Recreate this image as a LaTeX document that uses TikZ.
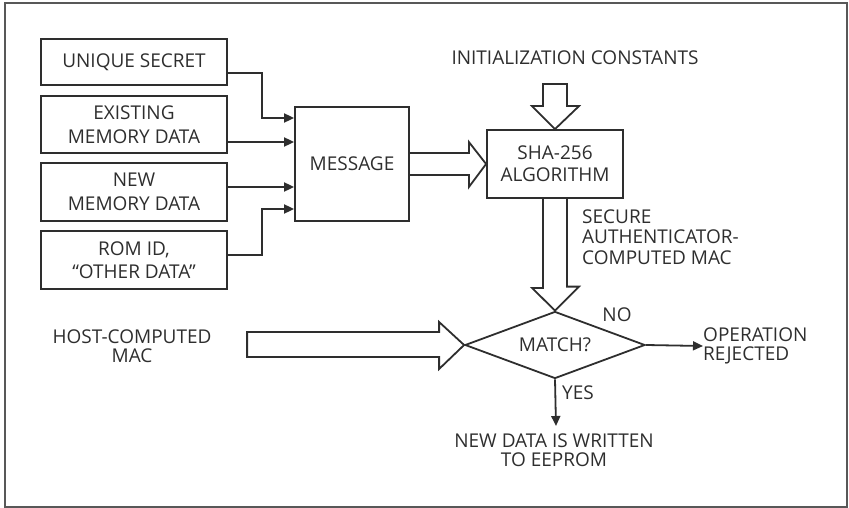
\documentclass[tikz,border=0pt]{standalone}
\usepackage{fontspec}
\setmainfont{Open Sans}
\usetikzlibrary{shapes.geometric,arrows.meta,calc}
\definecolor{ink}{HTML}{2E2E2E}
\begin{document}
\begin{tikzpicture}[x=1pt,y=-1pt,
  every node/.style={font=\fontsize{19}{19}\selectfont, text=ink, inner sep=0pt},
  line/.style={draw=ink, line width=1.8pt},
  box/.style={line, rectangle, align=center},
  inbox/.style={box, minimum width=186pt, font=\fontsize{19}{23.5}\selectfont},
  flow/.style={line, -{Triangle[length=10pt,width=9pt]}},
  hollow/.style={line, line join=miter},
  lbl/.style={align=center}]
% frame
\useasboundingbox (0,0) rectangle (849,508);
\draw[draw=ink!80, line width=1.5pt] (5,3) rectangle (847,507);

% input boxes
\node[inbox, minimum height=46pt] (b1) at (134,62) {UNIQUE SECRET};
\node[inbox, minimum height=57pt] (b2) at (134,124.5) {EXISTING\\MEMORY DATA};
\node[inbox, minimum height=58pt] (b3) at (134,192) {NEW\\MEMORY DATA};
\node[inbox, minimum height=58pt] (b4) at (134,260) {ROM ID,\\``OTHER DATA''};

% message and hash blocks
\node[box, minimum width=114pt, minimum height=114pt] (msg) at (352,164) {MESSAGE};
\node[box, minimum width=136pt, minimum height=68pt, font=\fontsize{19}{22}\selectfont] (sha) at (555,164) {SHA-256\\ALGORITHM};

% decision diamond with its caption set on top
\node[line, diamond, minimum width=180pt, minimum height=67pt] (dia) at (555,345) {};
\node (match) at (dia.center) {MATCH?};

% free labels
\node[lbl] (init) at (575,58) {INITIALIZATION CONSTANTS};
\node[lbl] (host) at (132,346) {HOST-COMPUTED\\MAC};
\node[align=left, anchor=west, font=\fontsize{19}{20.5}\selectfont] (sec) at (582,237) {SECURE\\AUTHENTICATOR-\\COMPUTED MAC};
\node[align=left, anchor=west] (rej) at (703,346) {OPERATION\\REJECTED};
\node[lbl, anchor=north] (new) at (554,434) {NEW DATA IS WRITTEN\\TO EEPROM};
\node (no) at (617,315) {NO};
\node (yes) at (578,393) {YES};

% inputs into the message
\draw[flow] ($(b1.east)+(0,11)$) -- ++(34,0) |- ($(msg.west)+(0,-46)$);
\draw[flow] ($(b2.east)+(0,17.5)$) -- ($(msg.west)+(0,-22)$);
\draw[flow] ($(b3.east)+(0,-5)$) -- ($(msg.west)+(0,23)$);
\draw[flow] ($(b4.east)+(0,-5)$) -- ++(34,0) |- ($(msg.west)+(0,45)$);

% wide arrow: message to hash
\draw[hollow] ($(msg.east)+(0,-11)$) -- ++(59,0) -- ++(0,-11) -- (sha.west)
  -- ($(msg.east)+(59,23)$) -- ++(0,-12) -- ($(msg.east)+(0,11)$);

% wide arrow: constants into hash
\draw[hollow] ($(sha.north)+(-12,-45)$) -- ++(0,22) -- ++(-11,0) -- (sha.north)
  -- ($(sha.north)+(24,-23)$) -- ++(-12,0) -- ++(0,-22) -- cycle;

% wide arrow: hash to comparison
\draw[hollow] ($(sha.south)+(-12,0)$) -- ++(0,89) -- ++(-11,0) -- (dia.north)
  -- ($(dia.north)+(24,-24)$) -- ++(-12,0) -- ($(sha.south)+(12,0)$);

% wide arrow: host MAC into comparison
\draw[hollow] ($(dia.west)+(-217,-13)$) -- ++(192,0) -- ++(0,-10) -- (dia.west)
  -- ($(dia.west)+(-25,24)$) -- ++(0,-12) -- ++(-192,0) -- cycle;

% decision outcomes
\draw[flow] (dia.east) -- (rej.west);
\draw[flow] (dia.south) -- ($(new.north)+(2,-8)$);
\end{tikzpicture}
\end{document}
